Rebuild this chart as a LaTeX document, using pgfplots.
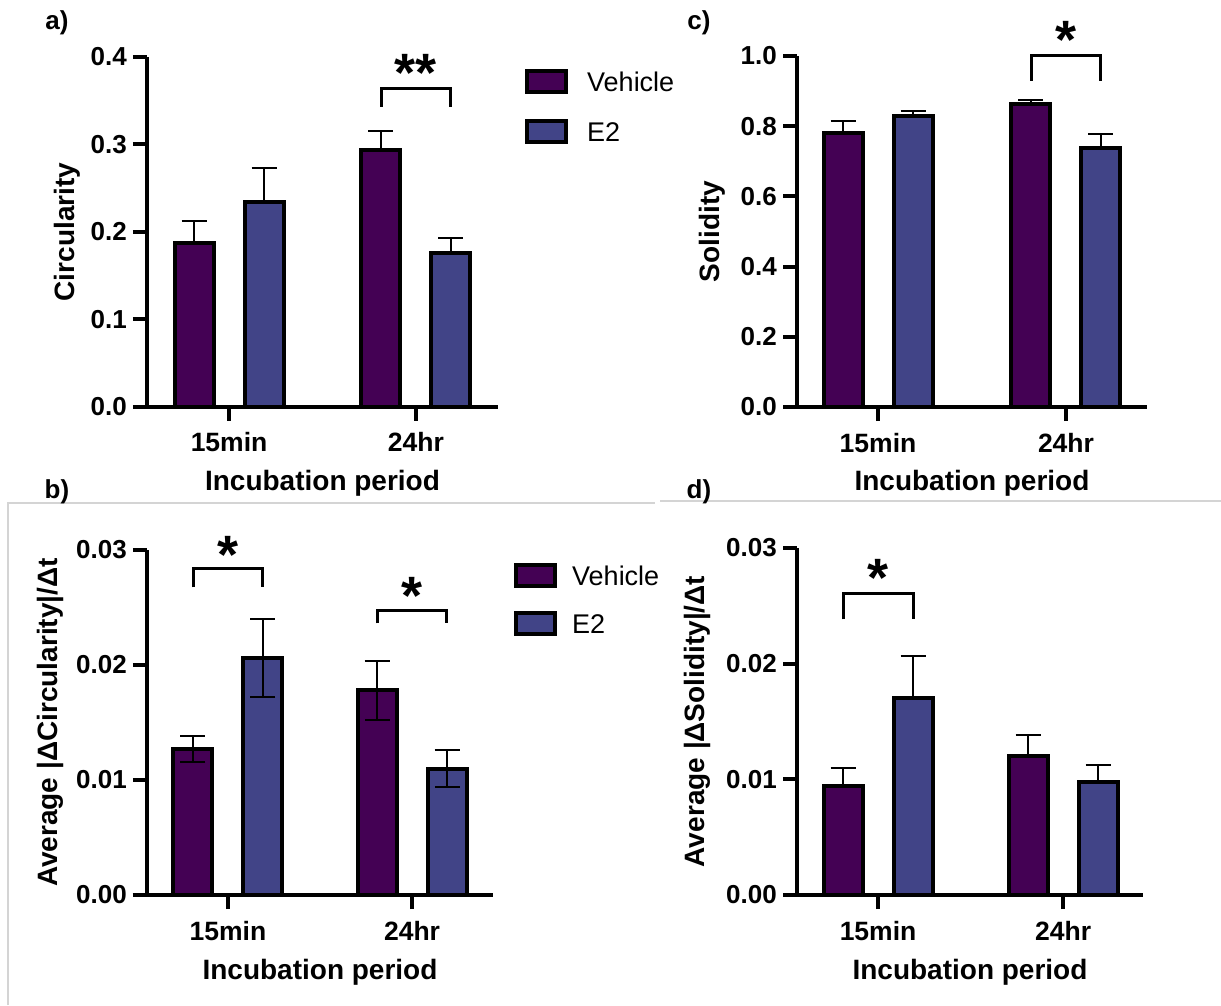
\documentclass[border=0pt]{standalone}
\usepackage{fontspec}
\setmainfont{Liberation Sans}
\usepackage{pgfplots}
\pgfplotsset{compat=1.18}

\definecolor{vehicle}{HTML}{440154}
\definecolor{etwo}{HTML}{414487}
\definecolor{framegray}{HTML}{D4D4D4}

\newcommand\yticksize{\fontsize{26}{28}\selectfont\bfseries}
\newcommand\xticksize{\fontsize{26.5}{30}\selectfont\bfseries}
\newcommand\labelsize{\fontsize{28}{33}\selectfont\bfseries}
\newcommand\legsize{\fontsize{27}{32}\selectfont}
\newcommand\starsize{\fontsize{54}{54}\selectfont\bfseries}
\newcommand\panelsize{\fontsize{26}{28}\selectfont\bfseries}

\tikzset{
  bracket/.style={line width=3pt, black, line cap=butt, line join=miter},
  star/.style={font=\starsize, anchor=base, inner sep=0pt},
}

\pgfplotsset{
  panel/.style={
    scale only axis,
    axis lines=left,
    axis line style={line width=4pt, -},
    x axis line style={shorten <=-14pt},
    ybar, bar width=39pt,
    ymin=0,
    xtick={1,2}, xticklabels={15min,24hr},
    tick style={line width=4pt, black},
    major tick length=14pt,
    tick align=outside,
    minor tick num=0,
    clip=false,
    scaled y ticks=false,
    yticklabel style={font=\yticksize, inner sep=0pt, xshift=-6pt},
    xticklabel style={font=\xticksize, inner sep=0pt, anchor=base, yshift=-31pt},
    xlabel={Incubation period},
    xlabel style={font=\labelsize, at={(rel axis cs:0.5,0)}, anchor=base, yshift=-84pt},
    every axis plot/.append style={draw=black, line width=4pt, line join=miter},
    error bars/y explicit,
    error bars/error bar style={line width=2pt, black},
    error bars/error mark options={rotate=90, mark size=12.5pt, line width=2pt, black},
    legend image code/.code={\draw[#1, draw=black, line width=4pt] (0pt,-10.5pt) rectangle (39pt,10.5pt);},
    legend cell align=left,
  },
  sidelegend/.style n args={4}{
    legend style={at={(rel axis cs:1,1)}, anchor=north west, xshift=#1, yshift=#2,
      draw=none, fill=none, inner sep=0pt, row sep=#3, font=\legsize,
      nodes={inner sep=0pt, text height=19.7pt, text depth=0pt},
      /tikz/every odd column/.style={column sep=#4}},
  },
}

\begin{document}
\begin{tikzpicture}[x=1pt, y=1pt]
\path[use as bounding box] (0,0) rectangle (1221,1005);

% light frames around the lower panels
\draw[framegray, line width=1.2pt] (8,0) -- (8,502) -- (655,502);
\draw[framegray, line width=1.2pt] (660,504) -- (1221,504);

% panel letters
\node[font=\panelsize] at (57,982) {a)};
\node[font=\panelsize] at (57,513) {b)};
\node[font=\panelsize] at (699,982) {c)};
\node[font=\panelsize] at (699,513) {d)};

% ---------------- a) Circularity ----------------
\begin{axis}[panel,
  at={(147pt,598pt)}, anchor=south west,
  width=351pt, height=350pt,
  xmin=0.561, xmax=2.439, ymax=0.4,
  ytick={0,0.1,0.2,0.3,0.4}, yticklabels={0.0,0.1,0.2,0.3,0.4},
  ylabel={Circularity},
  ylabel style={font=\labelsize, at={(rel axis cs:0,0.5)}, anchor=center, yshift=80pt},
  error bars/y dir=plus,
  sidelegend={27pt}{-12pt}{25pt}{19pt},
]
\addplot[fill=vehicle, bar shift=-35pt] coordinates {(1,0.187) +- (0,0.026) (2,0.294) +- (0,0.021)};
\addlegendentry{Vehicle}
\addplot[fill=etwo, bar shift=35pt] coordinates {(1,0.234) +- (0,0.039) (2,0.176) +- (0,0.017)};
\addlegendentry{E2}
\draw[bracket] (axis cs:1.813,0.343) -- (axis cs:1.813,0.364) -- (axis cs:2.187,0.364) -- (axis cs:2.187,0.343);
\node[star] at (axis cs:2,0.3606) {**};
\end{axis}

% ---------------- b) Average |dCircularity|/dt ----------------
\begin{axis}[panel,
  at={(147pt,110pt)}, anchor=south west,
  width=346pt, height=345pt,
  xmin=0.560, xmax=2.440, ymax=0.03,
  ytick={0,0.01,0.02,0.03}, yticklabels={0.00,0.01,0.02,0.03},
  ylabel={Average |ΔCircularity|/Δt},
  ylabel style={font=\labelsize, at={(rel axis cs:0,0.5)}, anchor=center, yshift=97pt},
  error bars/y dir=both,
  sidelegend={21pt}{-13pt}{23pt}{15pt},
]
\addplot[fill=vehicle, bar shift=-35pt] coordinates {(1,0.0127) +- (0,0.00114) (2,0.0178) +- (0,0.00254)};
\addlegendentry{Vehicle}
\addplot[fill=etwo, bar shift=35pt] coordinates {(1,0.0206) +- (0,0.0034) (2,0.0110) +- (0,0.00163)};
\addlegendentry{E2}
\draw[bracket] (axis cs:0.81,0.02675) -- (axis cs:0.81,0.0284) -- (axis cs:1.19,0.0284) -- (axis cs:1.19,0.02675);
\node[star] at (axis cs:1,0.02796) {*};
\draw[bracket] (axis cs:1.81,0.02362) -- (axis cs:1.81,0.0247) -- (axis cs:2.19,0.0247) -- (axis cs:2.19,0.02362);
\node[star] at (axis cs:2,0.02439) {*};
\end{axis}

% ---------------- c) Solidity ----------------
\begin{axis}[panel,
  at={(797pt,598pt)}, anchor=south west,
  width=350pt, height=351pt,
  xmin=0.569, xmax=2.431, ymax=1.0,
  ytick={0,0.2,0.4,0.6,0.8,1.0}, yticklabels={0.0,0.2,0.4,0.6,0.8,1.0},
  ylabel={Solidity},
  ylabel style={font=\labelsize, at={(rel axis cs:0,0.5)}, anchor=center, yshift=85pt},
  error bars/y dir=plus,
]
\addplot[fill=vehicle, bar shift=-35pt] coordinates {(1,0.781) +- (0,0.033) (2,0.862) +- (0,0.014)};
\addplot[fill=etwo, bar shift=35pt] coordinates {(1,0.828) +- (0,0.014) (2,0.739) +- (0,0.040)};
\draw[bracket] (axis cs:1.814,0.929) -- (axis cs:1.814,1.0) -- (axis cs:2.186,1.0) -- (axis cs:2.186,0.929);
\node[star] at (axis cs:2,0.993) {*};
\end{axis}

% ---------------- d) Average |dSolidity|/dt ----------------
\begin{axis}[panel,
  at={(797pt,110pt)}, anchor=south west,
  width=346pt, height=347pt,
  xmin=0.562, xmax=2.432, ymax=0.03,
  ytick={0,0.01,0.02,0.03}, yticklabels={0.00,0.01,0.02,0.03},
  ylabel={Average |ΔSolidity|/Δt},
  ylabel style={font=\labelsize, at={(rel axis cs:0,0.5)}, anchor=center, yshift=100pt},
  error bars/y dir=plus,
]
\addplot[fill=vehicle, bar shift=-35pt] coordinates {(1,0.00942) +- (0,0.00158) (2,0.0120) +- (0,0.0018)};
\addplot[fill=etwo, bar shift=35pt] coordinates {(1,0.0170) +- (0,0.0037) (2,0.0098) +- (0,0.0014)};
\draw[bracket] (axis cs:0.811,0.02384) -- (axis cs:0.811,0.02606) -- (axis cs:1.189,0.02606) -- (axis cs:1.189,0.02384);
\node[star] at (axis cs:1,0.0258) {*};
\end{axis}
\end{tikzpicture}
\end{document}
